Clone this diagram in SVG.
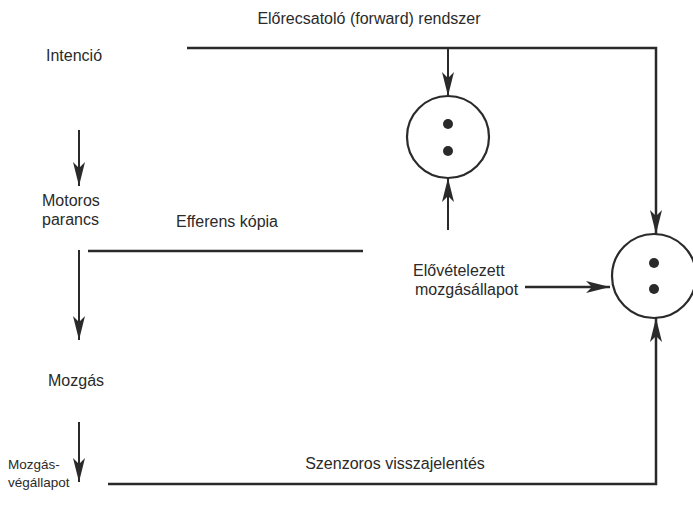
<svg xmlns="http://www.w3.org/2000/svg" width="693" height="515" viewBox="0 0 693 515">
<style>
text{font-family:"Liberation Sans",Arial,sans-serif;font-size:16px;fill:#2a2a2a}
.sm{font-size:13.5px}
.ln{stroke:#2a2a2a;stroke-width:2.5;fill:none}
.th{stroke:#2a2a2a;stroke-width:2;fill:none}
.c{stroke:#2a2a2a;stroke-width:2.2;fill:#fff}
.d{fill:#2a2a2a}
</style>
<defs>
<marker id="ah" markerUnits="userSpaceOnUse" markerWidth="24" markerHeight="14" refX="24" refY="7" orient="auto" viewBox="0 0 24 14">
<path d="M0,1 L24,7 L0,13 L6,7 Z" fill="#2a2a2a"/>
</marker>
</defs>
<rect width="693" height="515" fill="#fff"/>
<g id="labels">
<text x="369" y="24" text-anchor="middle">Előrecsatoló (forward) rendszer</text>
<text x="395" y="469" text-anchor="middle">Szenzoros visszajelentés</text>
<text x="176" y="227">Efferens kópia</text>
</g>
<g id="intencio"><text x="46" y="61">Intenció</text></g>
<g id="motoros"><text x="42" y="206">Motoros</text><text x="42" y="225">parancs</text></g>
<g id="mozgas"><text x="48" y="386">Mozgás</text></g>
<g id="vegallapot"><text class="sm" x="8" y="469">Mozgás-</text><text class="sm" x="8" y="487">végállapot</text></g>
<g id="elovetelezett"><text x="413" y="276">Elővételezett</text><text x="415" y="295">mozgásállapot</text></g>
<g id="comp1"><circle class="c" cx="448" cy="137" r="41"/><circle class="d" cx="448" cy="124" r="5"/><circle class="d" cx="448" cy="151" r="5"/></g>
<g id="comp2"><circle class="c" cx="654" cy="276" r="42"/><circle class="d" cx="654" cy="263" r="5"/><circle class="d" cx="654" cy="289" r="5"/></g>
<g id="connectors">
<path class="ln" d="M187,48 H656 V234" marker-end="url(#ah)"/>
<path class="th" d="M448,48 V96" marker-end="url(#ah)"/>
<path class="th" d="M448,230 V178" marker-end="url(#ah)"/>
<path class="ln" d="M88,251 H363"/>
<path class="th" d="M79,130 V186" marker-end="url(#ah)"/>
<path class="th" d="M79,250 V340" marker-end="url(#ah)"/>
<path class="th" d="M79,422 V482" marker-end="url(#ah)"/>
<path class="ln" d="M108,484 H656 V318" marker-end="url(#ah)"/>
<path class="ln" d="M525,287 H610" marker-end="url(#ah)"/>
</g>
</svg>
